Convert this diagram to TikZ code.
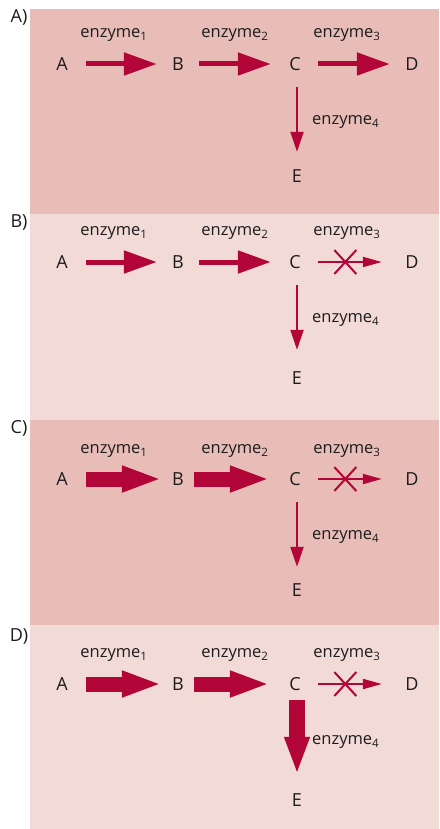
\documentclass[tikz,border=0pt]{standalone}
\usepackage{fontspec}
\setmainfont{Open Sans}
\usetikzlibrary{arrows.meta}

\definecolor{darkbg}{HTML}{E8BDB7}
\definecolor{lightbg}{HTML}{F2DBD6}
\definecolor{enzred}{HTML}{B10637}
\definecolor{txtgray}{HTML}{1E1B1C}

\tikzset{
    letter/.style={inner sep=0pt, minimum size=14pt, text=txtgray, font=\fontsize{18}{20}\selectfont},
    enzlabel/.style={inner sep=0pt, text=txtgray, font=\fontsize{16.5}{18}\selectfont},
    thinarrow/.style={draw=enzred, line width=5pt, -{Triangle[length=33pt,width=22pt]}},
    fatarrow/.style={draw=enzred, line width=15pt, -{Triangle[length=40pt,width=24pt]}},
    downarrow/.style={draw=enzred, line width=2.2pt, -{Triangle[length=20pt,width=13pt]}},
    fatdown/.style={draw=enzred, line width=16pt, -{Triangle[length=38pt,width=23pt]}},
    blocked/.style={draw=enzred, line width=2pt, -{Triangle[length=19pt,width=10pt]}},
    crossbox/.style={inner sep=0pt, minimum width=20pt, minimum height=22pt},
    crosslines/.style={draw=enzred, line width=2pt}
}

\begin{document}
\begin{tikzpicture}[x=1pt, y=-1pt]

    \useasboundingbox (0,0) rectangle (439,829);

    % backgrounds
    \fill[darkbg] (30,9) rectangle (439,214);
    \fill[lightbg] (30,214) rectangle (439,420);
    \fill[darkbg] (30,420) rectangle (439,625);
    \fill[lightbg] (30,625) rectangle (439,829);

\begin{scope}[shift={(0,64)}]

    % Panel A
    \node[letter] (labA) at (19,-47) {A)};
    \node[letter] (A1) at (62,0) {A};
    \node[letter] (B1) at (178,0) {B};
    \node[letter] (C1) at (295,0) {C};
    \node[letter] (D1) at (412,0) {D};
    \node[letter] (E1) at (297,112) {E};

    % enzymes
    \node[enzlabel] (e11) at (114,-29) {enzyme\textsubscript{1}};
    \node[enzlabel] (e12) at (235,-29) {enzyme\textsubscript{2}};
    \node[enzlabel] (e13) at (347,-29) {enzyme\textsubscript{3}};
    \node[enzlabel, anchor=west] (e14) at (312,58) {enzyme\textsubscript{4}};

    \draw[thinarrow, shorten <=17pt, shorten >=14pt] (A1) -- (B1);
    \draw[thinarrow, shorten <=14pt, shorten >=17pt] (B1) -- (C1);
    \draw[thinarrow, shorten <=16pt, shorten >=15pt] (C1) -- (D1);
    \draw[downarrow, shorten <=16pt, shorten >=17pt] (C1.south -| E1) -- (E1);

\end{scope}

\begin{scope}[shift={(0,262)}]

    % Panel B
    \node[letter] (labB) at (19,-40) {B)};
    \node[letter] (A2) at (62,0) {A};
    \node[letter] (B2) at (178,0) {B};
    \node[letter] (C2) at (295,0) {C};
    \node[letter] (D2) at (412,0) {D};
    \node[letter] (E2) at (297,116) {E};

    % enzymes
    \node[enzlabel] (e21) at (114,-29) {enzyme\textsubscript{1}};
    \node[enzlabel] (e22) at (235,-29) {enzyme\textsubscript{2}};
    \node[enzlabel] (e23) at (347,-29) {enzyme\textsubscript{3}};
    \node[enzlabel, anchor=west] (e24) at (312,58) {enzyme\textsubscript{4}};

    \draw[thinarrow, shorten <=17pt, shorten >=14pt] (A2) -- (B2);
    \draw[thinarrow, shorten <=14pt, shorten >=17pt] (B2) -- (C2);
    \draw[blocked, shorten <=16pt, shorten >=23pt] (C2) -- (D2)
        node[crossbox, pos=0.42] (x2) {};
    \draw[crosslines] (x2.north west) -- (x2.south east) (x2.south west) -- (x2.north east);
    \draw[downarrow, shorten <=16pt, shorten >=21pt] (C2.south -| E2) -- (E2);

\end{scope}

\begin{scope}[shift={(0,479)}]

    % Panel C
    \node[letter] (labC) at (19,-51) {C)};
    \node[letter] (A3) at (62,0) {A};
    \node[letter] (B3) at (178,0) {B};
    \node[letter] (C3) at (295,0) {C};
    \node[letter] (D3) at (412,0) {D};
    \node[letter] (E3) at (297,111) {E};

    % enzymes
    \node[enzlabel] (e31) at (114,-28) {enzyme\textsubscript{1}};
    \node[enzlabel] (e32) at (235,-28) {enzyme\textsubscript{2}};
    \node[enzlabel] (e33) at (347,-28) {enzyme\textsubscript{3}};
    \node[enzlabel, anchor=west] (e34) at (312,58) {enzyme\textsubscript{4}};

    \draw[fatarrow, shorten <=17pt, shorten >=9pt] (A3) -- (B3);
    \draw[fatarrow, shorten <=9pt, shorten >=18pt] (B3) -- (C3);
    \draw[blocked, shorten <=16pt, shorten >=23pt] (C3) -- (D3)
        node[crossbox, pos=0.42] (x3) {};
    \draw[crosslines] (x3.north west) -- (x3.south east) (x3.south west) -- (x3.north east);
    \draw[downarrow, shorten <=16pt, shorten >=16pt] (C3.south -| E3) -- (E3);

\end{scope}

\begin{scope}[shift={(0,684)}]

    % Panel D
    \node[letter] (labD) at (19,-48) {D)};
    \node[letter] (A4) at (62,0) {A};
    \node[letter] (B4) at (178,0) {B};
    \node[letter] (C4) at (295,0) {C};
    \node[letter] (D4) at (412,0) {D};
    \node[letter] (E4) at (297,116) {E};

    % enzymes
    \node[enzlabel] (e41) at (114,-29) {enzyme\textsubscript{1}};
    \node[enzlabel] (e42) at (235,-29) {enzyme\textsubscript{2}};
    \node[enzlabel] (e43) at (347,-29) {enzyme\textsubscript{3}};
    \node[enzlabel, anchor=west] (e44) at (312,58) {enzyme\textsubscript{4}};

    \draw[fatarrow, shorten <=17pt, shorten >=9pt] (A4) -- (B4);
    \draw[fatarrow, shorten <=9pt, shorten >=18pt] (B4) -- (C4);
    \draw[blocked, shorten <=16pt, shorten >=23pt] (C4) -- (D4)
        node[crossbox, pos=0.42] (x4) {};
    \draw[crosslines] (x4.north west) -- (x4.south east) (x4.south west) -- (x4.north east);
    \draw[fatdown, shorten <=9pt, shorten >=18pt] (C4.south -| E4) -- (E4);

\end{scope}
\end{tikzpicture}
\end{document}
